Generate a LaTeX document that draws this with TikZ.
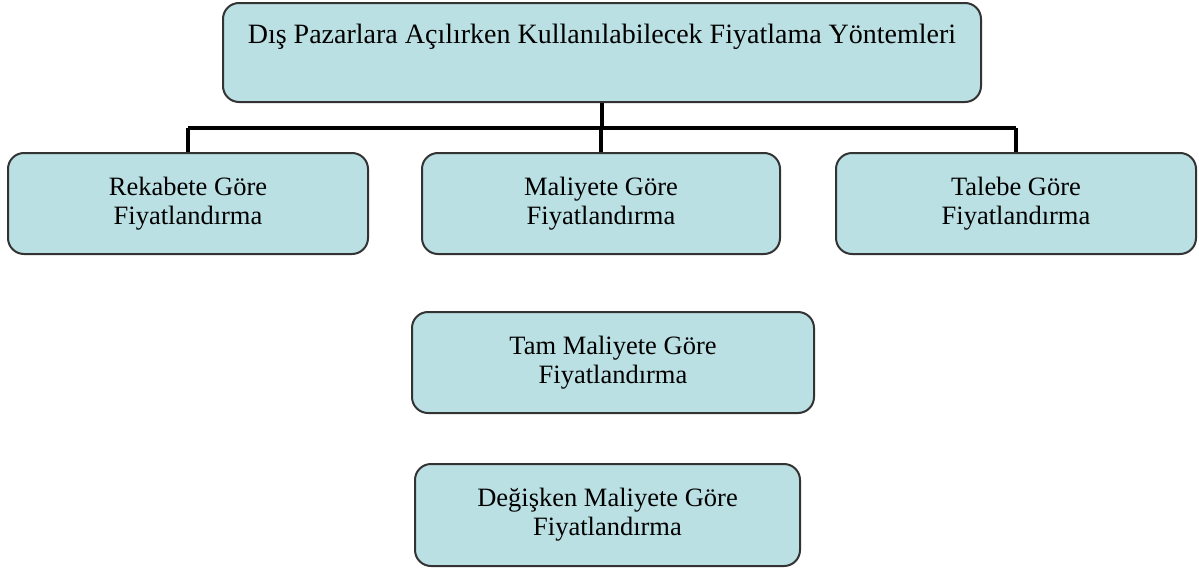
\documentclass[tikz,border=0pt]{standalone}
\usepackage{fontspec}
\setmainfont{Liberation Serif}
\definecolor{boxfill}{HTML}{BAE0E3}
\definecolor{boxline}{HTML}{333333}
\tikzset{
  pbox/.style={draw=boxline, line width=2pt, fill=boxfill, rounded corners=16pt,
    align=center, inner sep=0pt, font=\fontsize{26.5}{29}\selectfont},
  conn/.style={draw=black, line width=4.5pt}
}
\begin{document}
\begin{tikzpicture}[x=1pt,y=-1pt]
\useasboundingbox (0,0) rectangle (1199,570);
\node[pbox, font=\fontsize{28}{30}\selectfont, minimum width=758pt, minimum height=99pt, text height=21pt, text depth=40pt] (top) at (602,52.5) {Dış Pazarlara Açılırken Kullanılabilecek Fiyatlama Yöntemleri};
\node[pbox, minimum width=360pt, minimum height=101pt] (rek) at (188,203.5) {Rekabete Göre\\Fiyatlandırma};
\node[pbox, minimum width=358pt, minimum height=101pt] (mal) at (601,203.5) {Maliyete Göre\\Fiyatlandırma};
\node[pbox, minimum width=360pt, minimum height=101pt] (tal) at (1016,203.5) {Talebe Göre\\Fiyatlandırma};
\node[pbox, minimum width=402pt, minimum height=101pt] (tam) at (613,362.5) {Tam Maliyete Göre\\Fiyatlandırma};
\node[pbox, minimum width=385pt, minimum height=102pt] (deg) at (607.5,515) {Değişken Maliyete Göre\\Fiyatlandırma};
\coordinate (bus) at (603,128);
\draw[conn] (rek.north |- bus) -- (tal.north |- bus);
\draw[conn] (top.south) -- (top.south |- bus);
\draw[conn] (rek.north) -- (rek.north |- bus);
\draw[conn] (mal.north) -- (mal.north |- bus);
\draw[conn] (tal.north) -- (tal.north |- bus);
\end{tikzpicture}
\end{document}
